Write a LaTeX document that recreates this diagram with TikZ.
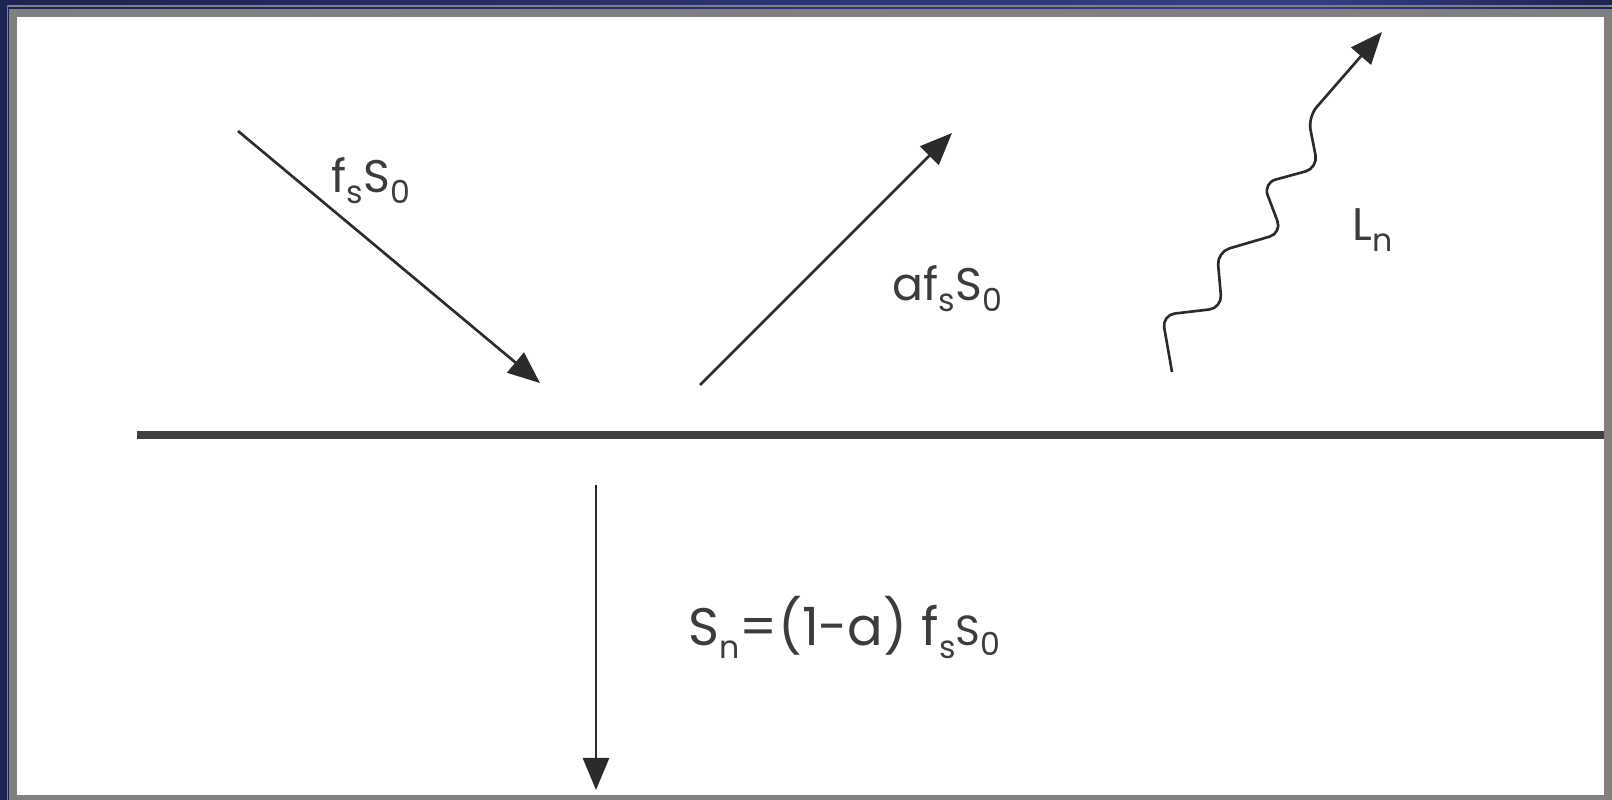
\documentclass[tikz,border=0pt]{standalone}
\usepackage{fontspec}
\setmainfont{Poppins}
\usetikzlibrary{arrows.meta}
\definecolor{navy}{HTML}{1D2352}
\definecolor{navylight}{HTML}{363E88}
\definecolor{framegray}{HTML}{808080}
\definecolor{ink}{HTML}{2B2B2B}
\definecolor{txt}{HTML}{3C3C3C}
\tikzset{
  ray/.style={draw=ink, line width=0.75pt, -{Triangle[length=0.32cm,width=0.26cm]}},
  surface/.style={draw=ink!90, line width=2pt},
  lbl/.style={inner sep=0pt, anchor=base west, text=txt, font=\fontsize{13}{15}\selectfont},
  biglbl/.style={inner sep=0pt, anchor=base west, text=txt, font=\fontsize{15}{18}\selectfont}
}
\newcommand\lowsub[1]{\raisebox{-0.45ex}{\fontsize{9}{10}\selectfont #1}}
\begin{document}
\begin{tikzpicture}[x=0.01cm, y=-0.01cm]
\useasboundingbox (0,0) rectangle (1612,800);
% frame
\fill[navy] (0,0) rectangle (1612,800);
\shade[left color=navy, right color=navylight] (0,0) rectangle (1300,9);
\shade[left color=navylight, right color=navy] (1300,0) rectangle (1612,9);
\draw[framegray, line width=1.5pt*0.2845] (7.3,5.8) -- (1612,5.8);
\draw[framegray, line width=1.5pt*0.2845] (7.3,5.8) -- (7.3,800);
\fill[framegray] (9.3,9.3) rectangle (1612,800);
\fill[white] (17,17) rectangle (1604,795);
% surface
\coordinate (sL) at (137,435);
\coordinate (sR) at (1604,435);
\draw[surface] (sL) -- (sR);
% incoming
\coordinate (inA) at (238,131);
\coordinate (inB) at (540,383);
\draw[ray] (inA) -- (inB);
\node[lbl] (lblin) at (331,192) {f\lowsub{s}S\lowsub{0}};
% reflected
\coordinate (refA) at (700,385);
\coordinate (refB) at (952,133);
\draw[ray] (refA) -- (refB);
\node[lbl] (lblref) at (892,300) {af\lowsub{s}S\lowsub{0}};
% longwave
\coordinate (wA) at (1172,372);
\coordinate (wB) at (1382,32);
\draw[ray, rounded corners=0.13cm] (wA) -- (1162,315) -- (1222,308) -- (1217,252)
  -- (1282,233) -- (1263,183) -- (1318,168) -- (1308,117) -- (wB);
\node[lbl] (lblL) at (1352,240) {L\lowsub{n}};
% absorbed
\coordinate (dA) at (596,485);
\coordinate (dB) at (596,790);
\draw[ray] (dA) -- (dB);
\node[biglbl] (lblS) at (688,645) {S\lowsub{n}=(1-a) f\lowsub{s}{\fontsize{12}{14}\selectfont S\lowsub{0}}};
\end{tikzpicture}
\end{document}
